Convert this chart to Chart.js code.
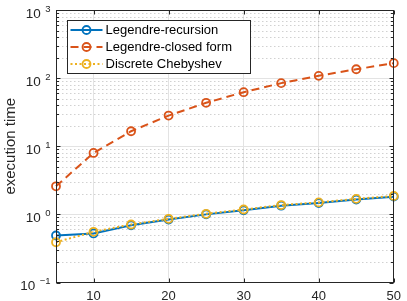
<!DOCTYPE html>
<html>
<head>
<meta charset="utf-8">
<script src="https://cdn.jsdelivr.net/npm/chart.js@4"></script>
<style>
  html, body { margin: 0; padding: 0; background: #fff; }
  canvas { display: block; }
</style>
</head>
<body>
<canvas id="myChart" width="407" height="301"></canvas>
<script>
// values (n on x, time on a log y axis)
const nValues = [5, 10, 15, 20, 25, 30, 35, 40, 45, 50];
const recursionTimes = [0.49, 0.525, 0.69, 0.84, 1.0, 1.15, 1.34, 1.47, 1.65, 1.82];
const closedFormTimes = [2.58, 7.98, 16.6, 28.2, 43.4, 62.2, 84.4, 108, 135, 166];
const chebyshevTimes = [0.39, 0.555, 0.71, 0.86, 1.02, 1.18, 1.37, 1.5, 1.69, 1.86];
const seriesNames = ["Legendre-recursion", "Legendre-closed form", "Discrete Chebyshev"];
const xTicks = [10, 20, 30, 40, 50];
const yDecades = [0.1, 1, 10, 100, 1000];

const axisColor = "#262626";
const gridColor = "#e3e3e3";

const yTicks = [];
yDecades.forEach((d, i) => {
  if (i === yDecades.length - 1) {
    yTicks.push(d);
    return;
  }
  for (let m = 1; m < 10; m++) yTicks.push(m * d);
});

function isDecade(v) {
  const l = Math.log10(v);
  return Math.abs(l - Math.round(l)) < 1e-6;
}

Chart.defaults.font.family = "'Liberation Sans', Arial, sans-serif";
Chart.defaults.color = axisColor;

// minor grid, inward ticks and the box round the plot
const matlabAxes = {
  id: "matlabAxes",
  beforeDatasetsDraw(chart) {
    const { ctx, chartArea: a, scales: { y } } = chart;
    ctx.save();
    ctx.strokeStyle = "rgba(26,26,26,0.2)";
    ctx.lineWidth = 1;
    ctx.setLineDash([1.5, 2.5]);
    yTicks.forEach((v) => {
      if (isDecade(v)) return;
      const py = Math.round(y.getPixelForValue(v)) + 0.5;
      ctx.beginPath();
      ctx.moveTo(a.left + 2, py);
      ctx.lineTo(a.right, py);
      ctx.stroke();
    });
    ctx.restore();
  },
  afterDatasetsDraw(chart) {
    const { ctx, chartArea: a, scales: { x, y } } = chart;
    const l = Math.round(a.left) + 0.5;
    const r = Math.round(a.right) - 0.5;
    const t = Math.round(a.top) + 0.5;
    const b = Math.round(a.bottom) - 0.5;
    ctx.save();
    ctx.strokeStyle = axisColor;
    ctx.lineWidth = 1;
    ctx.beginPath();
    yTicks.forEach((v) => {
      const py = Math.round(y.getPixelForValue(v)) + 0.5;
      const len = isDecade(v) ? 4 : 2.5;
      ctx.moveTo(l, py);
      ctx.lineTo(l + len, py);
      ctx.moveTo(r, py);
      ctx.lineTo(r - len, py);
    });
    xTicks.forEach((v) => {
      const px = Math.round(x.getPixelForValue(v)) + 0.5;
      ctx.moveTo(px, b);
      ctx.lineTo(px, b - 4);
      ctx.moveTo(px, t);
      ctx.lineTo(px, t + 4);
    });
    ctx.stroke();
    ctx.strokeRect(l, t, r - l, b - t);
    ctx.restore();
  },
  afterDraw(chart) {
    const { ctx, chartArea: a, scales: { y } } = chart;
    ctx.save();
    ctx.fillStyle = axisColor;
    ctx.textAlign = "right";
    ctx.textBaseline = "alphabetic";
    yDecades.forEach((v) => {
      const py = y.getPixelForValue(v);
      const exp = String(Math.round(Math.log10(v))).replace("-", "\u2212");
      const expRight = a.left - 5.5;
      ctx.font = "9.5px 'Liberation Sans', Arial, sans-serif";
      const expW = ctx.measureText(exp).width;
      ctx.fillText(exp, expRight, py + 1.7);
      ctx.font = "13.5px 'Liberation Sans', Arial, sans-serif";
      ctx.fillText("10", expRight - expW - 4.5, py + 7.5);
    });
    ctx.restore();
  },
};

// legend inside the plot, with a box
const boxLegend = {
  id: "boxLegend",
  afterDraw(chart) {
    const { ctx, chartArea: a } = chart;
    const bx = Math.round(a.left) + 11.5;
    const by = Math.round(a.top) + 10.5;
    const bw = 183;
    const bh = 53;
    ctx.save();
    ctx.fillStyle = "#fff";
    ctx.fillRect(bx, by, bw, bh);
    ctx.strokeStyle = axisColor;
    ctx.lineWidth = 1;
    ctx.strokeRect(bx, by, bw, bh);
    chart.data.datasets.forEach((ds, i) => {
      const cy = by + 9.5 + i * 17;
      const x0 = bx + 3;
      const x1 = bx + 35;
      const cx = (x0 + x1) / 2;
      ctx.strokeStyle = ds.borderColor;
      ctx.lineWidth = ds.borderWidth;
      ctx.setLineDash(ds.borderDash || []);
      ctx.beginPath();
      ctx.moveTo(x0, cy);
      ctx.lineTo(x1, cy);
      ctx.stroke();
      ctx.setLineDash([]);
      ctx.lineWidth = ds.pointBorderWidth;
      ctx.beginPath();
      ctx.arc(cx, cy, ds.pointRadius, 0, Math.PI * 2);
      ctx.stroke();
      ctx.fillStyle = "#000";
      ctx.font = "13px 'Liberation Sans', Arial, sans-serif";
      ctx.textAlign = "left";
      ctx.textBaseline = "middle";
      ctx.fillText(ds.label, x1 + 3, cy + 0.5);
    });
    ctx.restore();
  },
};

function makeSeries(label, values, color, dash, order) {
  return {
    label: label,
    data: nValues.map((n, i) => ({ x: n, y: values[i] })),
    borderColor: color,
    backgroundColor: color,
    borderWidth: 2,
    borderDash: dash,
    pointRadius: 4,
    pointBorderWidth: 1.8,
    pointBackgroundColor: "rgba(255,255,255,0)",
    pointBorderColor: color,
    tension: 0,
    fill: false,
    clip: false,
    order: order,
  };
}

const ctx = document.getElementById("myChart").getContext("2d");
const chart = new Chart(ctx, {
  type: "line",
  data: {
    datasets: [
      makeSeries(seriesNames[0], recursionTimes, "#0072BD", [], 2),
      makeSeries(seriesNames[1], closedFormTimes, "#D95319", [8, 5], 1),
      makeSeries(seriesNames[2], chebyshevTimes, "#EDB120", [2, 2.5], 0),
    ],
  },
  options: {
    responsive: false,
    animation: false,
    layout: { padding: { top: 10, right: 8.5, left: 0, bottom: 0 } },
    plugins: {
      legend: { display: false },
      tooltip: { enabled: false },
    },
    scales: {
      x: {
        type: "linear",
        min: 5,
        max: 50,
        afterBuildTicks: (scale) => {
          scale.ticks = xTicks.map((v) => ({ value: v }));
        },
        afterFit: (scale) => {
          scale.height = 18.5;
        },
        ticks: {
          padding: 6,
          maxRotation: 0,
          font: { size: 13 },
          color: axisColor,
        },
        grid: { color: gridColor, drawTicks: false, lineWidth: 1 },
        border: { display: false },
      },
      y: {
        type: "logarithmic",
        min: 0.1,
        max: 1000,
        afterBuildTicks: (scale) => {
          scale.ticks = yTicks.map((v) => ({ value: v }));
        },
        afterFit: (scale) => {
          scale.width = 56;
        },
        ticks: { display: false },
        grid: {
          drawTicks: false,
          lineWidth: 1,
          color: (c) => (c.tick && isDecade(c.tick.value) ? gridColor : "rgba(0,0,0,0)"),
        },
        border: { display: false },
        title: {
          display: true,
          text: "execution time",
          font: { size: 15 },
          color: axisColor,
          padding: { top: 2, bottom: 0 },
        },
      },
    },
  },
  plugins: [matlabAxes, boxLegend],
});
</script>
</body>
</html>
